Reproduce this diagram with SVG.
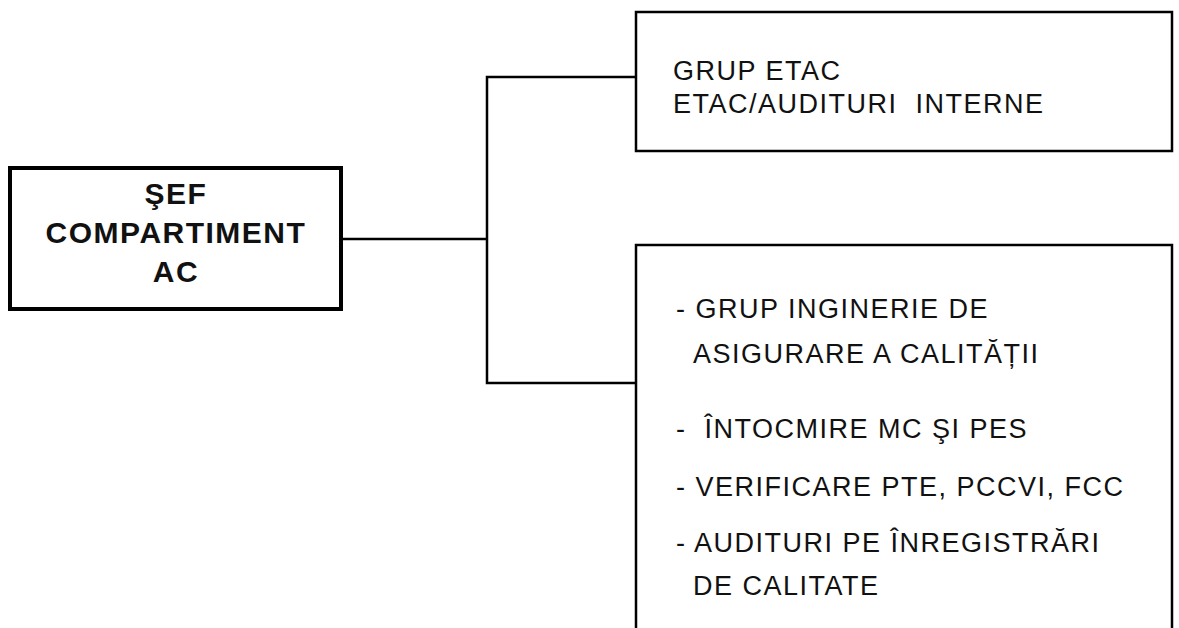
<svg xmlns="http://www.w3.org/2000/svg" width="1179" height="628" viewBox="0 0 1179 628">
<style>
.box{fill:#fff;stroke:#000;stroke-width:2.5}
.boss{fill:#fff;stroke:#000;stroke-width:4}
.t{font-family:"Liberation Sans",Arial,sans-serif;font-size:27px;fill:#111;letter-spacing:1.5px}
.b{font-family:"Liberation Sans",Arial,sans-serif;font-size:30px;font-weight:bold;fill:#111;text-anchor:middle;letter-spacing:1.5px}
.c{fill:none;stroke:#000;stroke-width:2.5}
</style>
<rect width="1179" height="628" fill="#fff"/>
<g id="connectors">
<path class="c" d="M341 239 H487"/>
<path class="c" d="M636 77 H487 V383 H636"/>
</g>
<g id="sef">
<rect class="boss" x="10" y="168" width="331" height="141"/>
<text class="b" x="176" y="204">ŞEF</text>
<text class="b" x="176" y="243">COMPARTIMENT</text>
<text class="b" x="176" y="282">AC</text>
</g>
<g id="etac">
<rect class="box" x="636" y="12" width="536" height="139"/>
<text class="t" x="673" y="80">GRUP ETAC</text>
<text class="t" x="673" y="113" xml:space="preserve">ETAC/AUDITURI  INTERNE</text>
</g>
<g id="inginerie">
<path class="box" d="M636 640 V245 H1172 V640"/>
<text class="t" x="676" y="318" xml:space="preserve">- GRUP INGINERIE DE</text>
<text class="t" x="693" y="363">ASIGURARE A CALITĂȚII</text>
<text class="t" x="676" y="438" xml:space="preserve">-  ÎNTOCMIRE MC ŞI PES</text>
<text class="t" x="676" y="496">- VERIFICARE PTE, PCCVI, FCC</text>
<text class="t" x="676" y="552">- AUDITURI PE ÎNREGISTRĂRI</text>
<text class="t" x="693" y="595">DE CALITATE</text>
</g>
</svg>
